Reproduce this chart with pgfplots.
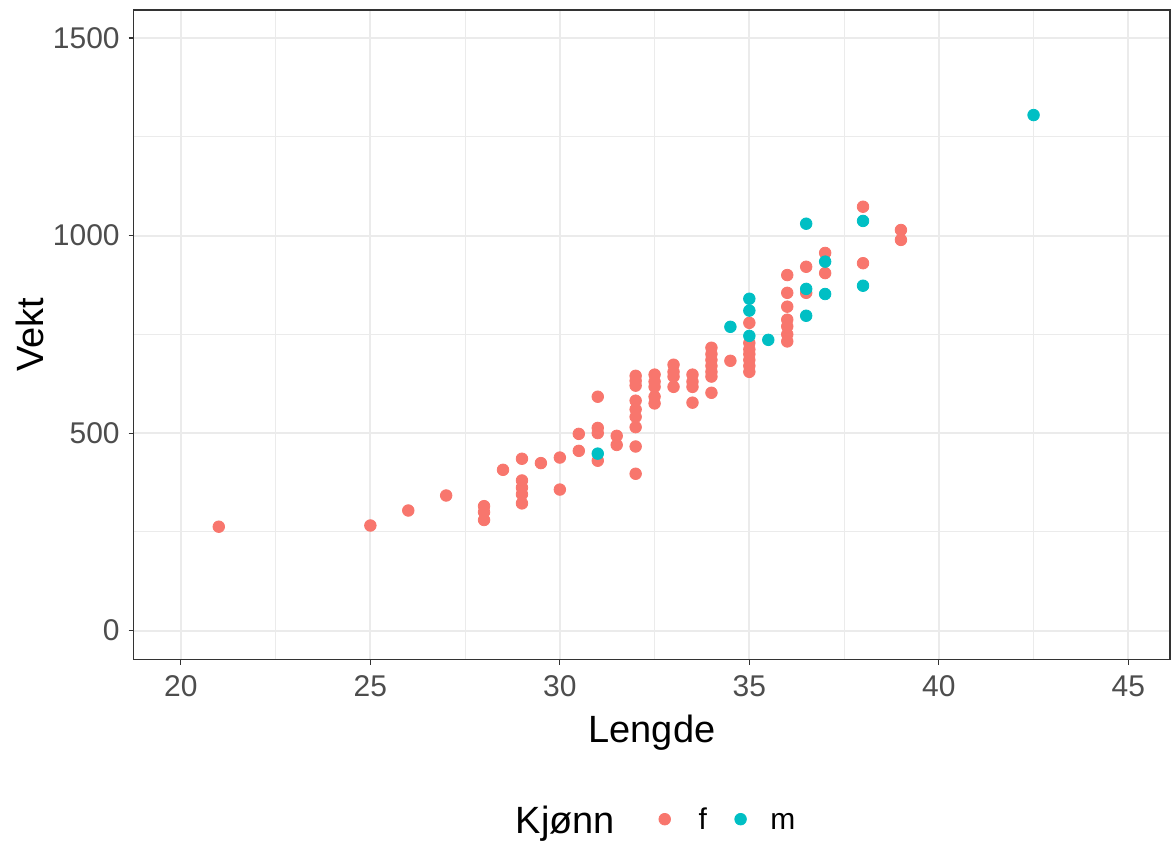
\documentclass[border=0pt]{standalone}
\usepackage{pgfplots}
\pgfplotsset{compat=1.18}
\usepackage{fontspec}
\setmainfont{Liberation Sans}
\definecolor{ggf}{HTML}{F8766D}
\definecolor{ggm}{HTML}{00BFC4}
\definecolor{gridc}{HTML}{EBEBEB}
\definecolor{txt}{HTML}{4D4D4D}
\begin{document}
\begin{tikzpicture}
\begin{axis}[
  scale only axis,
  width=518.5pt, height=325pt,
  xmin=18.76, xmax=46.1,
  ymin=-73, ymax=1571,
  xtick={20,25,...,45},
  ytick={0,500,1000,1500},
  minor xtick={22.5,27.5,...,42.5},
  minor ytick={250,750,1250},
  grid=both,
  major grid style={color=gridc, line width=1pt},
  minor grid style={color=gridc, line width=0.5pt},
  axis line style={color=black!80, line width=0.55pt},
  tick pos=left,
  tick align=outside,
  major tick length=2.6pt,
  minor tick length=0pt,
  tick style={color=black!80, line width=0.55pt},
  /pgf/number format/assume math mode=true,
  /pgf/number format/1000 sep={},
  ticklabel style={font=\fontsize{15pt}{17pt}\selectfont, color=txt},
  xticklabel style={yshift=-2pt},
  yticklabel style={xshift=-1pt},
  xlabel={Lengde},
  ylabel={Vekt},
  every axis x label/.style={at={(axis description cs:0.5,-0.1123)}, anchor=center, font=\fontsize{19pt}{22pt}\selectfont},
  every axis y label/.style={at={(axis description cs:-0.1003,0.5)}, rotate=90, anchor=center, font=\fontsize{19pt}{22pt}\selectfont},
  legend columns=-1,
  legend style={at={(axis description cs:0.5035,-0.246)}, anchor=center, draw=none, fill=none,
    font=\fontsize{15pt}{17pt}\selectfont,
    /tikz/every even column/.append style={column sep=8pt}},
  legend cell align=left,
  clip=false,
]
\addlegendimage{empty legend}
\addlegendentry{\fontsize{19pt}{22pt}\selectfont Kjønn\hspace{12pt}\strut}
\addplot[only marks, mark=*, mark size=2.9pt, color=ggf, mark options={draw=ggf, fill=ggf}] coordinates {
(21,263) (25,266) (26,304) (27,342)
(28,315) (28,300) (28,280) (28.5,407)
(29,435) (29,380) (29,362) (29,345) (29,322)
(29.5,424) (30,438) (30,357)
(30.5,498) (30.5,455)
(31,592) (31,513) (31,500) (31,430)
(31.5,493) (31.5,470)
(32,645) (32,632) (32,620) (32,582) (32,560) (32,541) (32,515) (32,466) (32,397)
(32.5,648) (32.5,630) (32.5,617) (32.5,592) (32.5,575)
(33,673) (33,655) (33,643) (33,617)
(33.5,648) (33.5,630) (33.5,617) (33.5,577)
(34,716) (34,700) (34,685) (34,670) (34,655) (34,643) (34,602)
(34.5,683)
(35,779) (35,728) (35,712) (35,700) (35,685) (35,670) (35,655)
(36,900) (36,855) (36,820) (36,787) (36,770) (36,750) (36,732)
(36.5,921) (36.5,855)
(37,956) (37,905)
(38,1073) (38,930)
(39,1014) (39,989)
};
\addlegendentry{\hspace{12pt}f\hspace{4pt}\strut}
\addplot[only marks, mark=*, mark size=2.9pt, color=ggm, mark options={draw=ggm, fill=ggm}] coordinates {
(31,448) (34.5,769)
(35,840) (35,810) (35,746)
(35.5,736)
(36.5,1030) (36.5,865) (36.5,797)
(37,934) (37,852)
(38,1037) (38,873)
(42.5,1305)
};
\addlegendentry{\hspace{10pt}m\strut}
\end{axis}
\useasboundingbox (-67pt,-90.5pt) rectangle (518.5pt,330pt);
\end{tikzpicture}
\end{document}
